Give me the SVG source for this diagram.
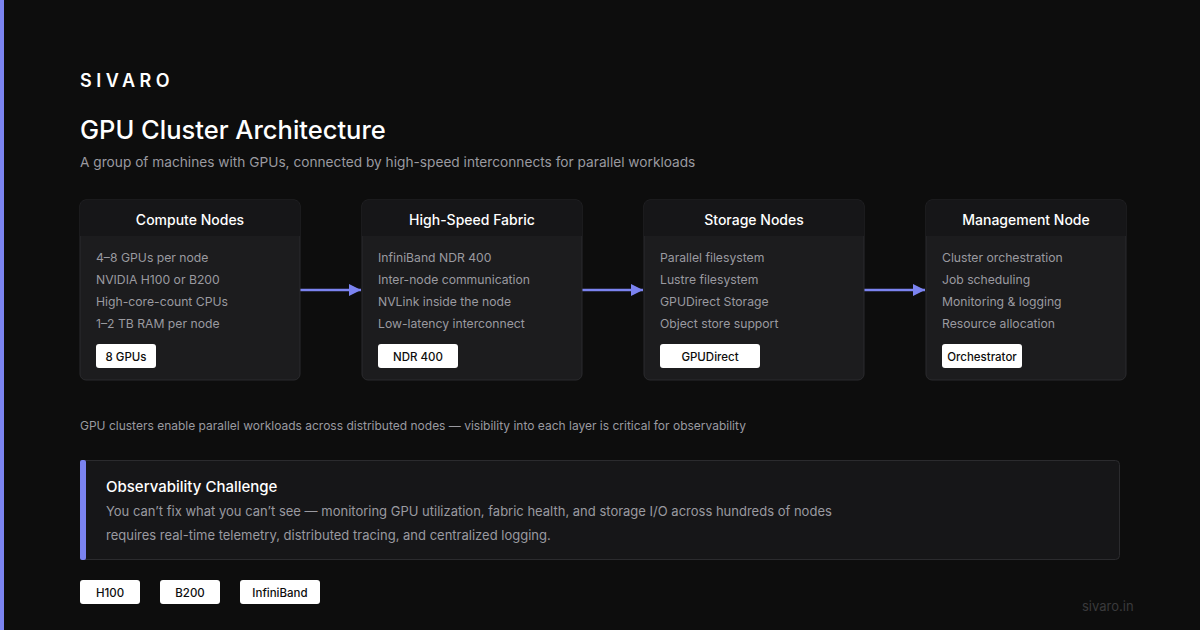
<svg xmlns="http://www.w3.org/2000/svg" width="1200" height="630" viewBox="0 0 1200 630">
<defs>
<style>
text{font-family:Inter,"Liberation Sans",sans-serif}
.card{fill:#1c1c1e;stroke:#2b2b2e;stroke-width:1}
.hdr{fill:#161618}
.ht{fill:#ffffff;font-size:14px;font-weight:500;text-anchor:middle}
.it{fill:#9a9aa0;font-size:12.2px}
.bd{fill:#ffffff}
.bt{fill:#0d0d0d;font-size:11.5px;font-weight:500;text-anchor:middle}
.conn{stroke:#7b83f0;stroke-width:2.5;fill:none}
</style>
<marker id="ah" markerWidth="14" markerHeight="14" refX="12" refY="6" orient="auto" markerUnits="userSpaceOnUse">
<path d="M0,0 L12,6 L0,12 Z" fill="#7b83f0"/>
</marker>
<clipPath id="c1"><rect x="80" y="200" width="220" height="180" rx="6"/></clipPath>
<clipPath id="c2"><rect x="362" y="200" width="220" height="180" rx="6"/></clipPath>
<clipPath id="c3"><rect x="644" y="200" width="220" height="180" rx="6"/></clipPath>
<clipPath id="c4"><rect x="926" y="200" width="200" height="180" rx="6"/></clipPath>
</defs>
<rect width="1200" height="630" fill="#0d0d0d"/>
<rect x="0" y="0" width="4" height="630" fill="#7b83f0"/>
<text x="80" y="87" fill="#ffffff" font-size="18" font-weight="600" letter-spacing="4.5">SIVARO</text>
<text x="80" y="139" fill="#ffffff" font-size="25.5" font-weight="500">GPU Cluster Architecture</text>
<text x="80" y="167" fill="#9a9aa0" font-size="13.7">A group of machines with GPUs, connected by high-speed interconnects for parallel workloads</text>

<g id="connectors">
<line class="conn" x1="300" y1="290" x2="361" y2="290" marker-end="url(#ah)"/>
<line class="conn" x1="582" y1="290" x2="643" y2="290" marker-end="url(#ah)"/>
<line class="conn" x1="864" y1="290" x2="925" y2="290" marker-end="url(#ah)"/>
</g>

<g id="compute">
<rect class="card" x="80" y="200" width="220" height="180" rx="6"/>
<rect class="hdr" x="80" y="200" width="220" height="36" clip-path="url(#c1)"/>
<text class="ht" x="190" y="225">Compute Nodes</text>
<text class="it" x="96" y="262">4–8 GPUs per node</text>
<text class="it" x="96" y="284">NVIDIA H100 or B200</text>
<text class="it" x="96" y="306">High-core-count CPUs</text>
<text class="it" x="96" y="328">1–2 TB RAM per node</text>
<rect class="bd" x="96" y="344" width="60" height="24" rx="3"/>
<text class="bt" x="126" y="360.5">8 GPUs</text>
</g>

<g id="fabric">
<rect class="card" x="362" y="200" width="220" height="180" rx="6"/>
<rect class="hdr" x="362" y="200" width="220" height="36" clip-path="url(#c2)"/>
<text class="ht" x="472" y="225">High-Speed Fabric</text>
<text class="it" x="378" y="262">InfiniBand NDR 400</text>
<text class="it" x="378" y="284">Inter-node communication</text>
<text class="it" x="378" y="306">NVLink inside the node</text>
<text class="it" x="378" y="328">Low-latency interconnect</text>
<rect class="bd" x="378" y="344" width="80" height="24" rx="3"/>
<text class="bt" x="418" y="360.5">NDR 400</text>
</g>

<g id="storage">
<rect class="card" x="644" y="200" width="220" height="180" rx="6"/>
<rect class="hdr" x="644" y="200" width="220" height="36" clip-path="url(#c3)"/>
<text class="ht" x="754" y="225">Storage Nodes</text>
<text class="it" x="660" y="262">Parallel filesystem</text>
<text class="it" x="660" y="284">Lustre filesystem</text>
<text class="it" x="660" y="306">GPUDirect Storage</text>
<text class="it" x="660" y="328">Object store support</text>
<rect class="bd" x="660" y="344" width="100" height="24" rx="3"/>
<text class="bt" x="710" y="360.5">GPUDirect</text>
</g>

<g id="management">
<rect class="card" x="926" y="200" width="200" height="180" rx="6"/>
<rect class="hdr" x="926" y="200" width="200" height="36" clip-path="url(#c4)"/>
<text class="ht" x="1026" y="225">Management Node</text>
<text class="it" x="942" y="262">Cluster orchestration</text>
<text class="it" x="942" y="284">Job scheduling</text>
<text class="it" x="942" y="306">Monitoring &amp; logging</text>
<text class="it" x="942" y="328">Resource allocation</text>
<rect class="bd" x="942" y="344" width="80" height="24" rx="3"/>
<text class="bt" x="982" y="360.5">Orchestrator</text>
</g>

<text x="80" y="430" fill="#9a9aa0" font-size="12">GPU clusters enable parallel workloads across distributed nodes — visibility into each layer is critical for observability</text>

<g id="observability">
<rect x="80.5" y="460.5" width="1039" height="99" rx="4" fill="#161618" stroke="#2b2b2e"/>
<rect x="80" y="460" width="6" height="100" rx="2" fill="#7b83f0"/>
<text x="106" y="492" fill="#ffffff" font-size="15" font-weight="500">Observability Challenge</text>
<text x="106" y="516" fill="#9a9aa0" font-size="13">You can’t fix what you can’t see — monitoring GPU utilization, fabric health, and storage I/O across hundreds of nodes</text>
<text x="106" y="540" fill="#9a9aa0" font-size="13">requires real-time telemetry, distributed tracing, and centralized logging.</text>
</g>

<g id="tags">
<rect class="bd" x="80" y="580" width="60" height="24" rx="3"/>
<text class="bt" x="110" y="596.5">H100</text>
<rect class="bd" x="160" y="580" width="60" height="24" rx="3"/>
<text class="bt" x="190" y="596.5">B200</text>
<rect class="bd" x="240" y="580" width="80" height="24" rx="3"/>
<text class="bt" x="280" y="596.5">InfiniBand</text>
</g>

<text x="1082" y="611" fill="#3a3a3c" font-size="13">sivaro.in</text>
</svg>
